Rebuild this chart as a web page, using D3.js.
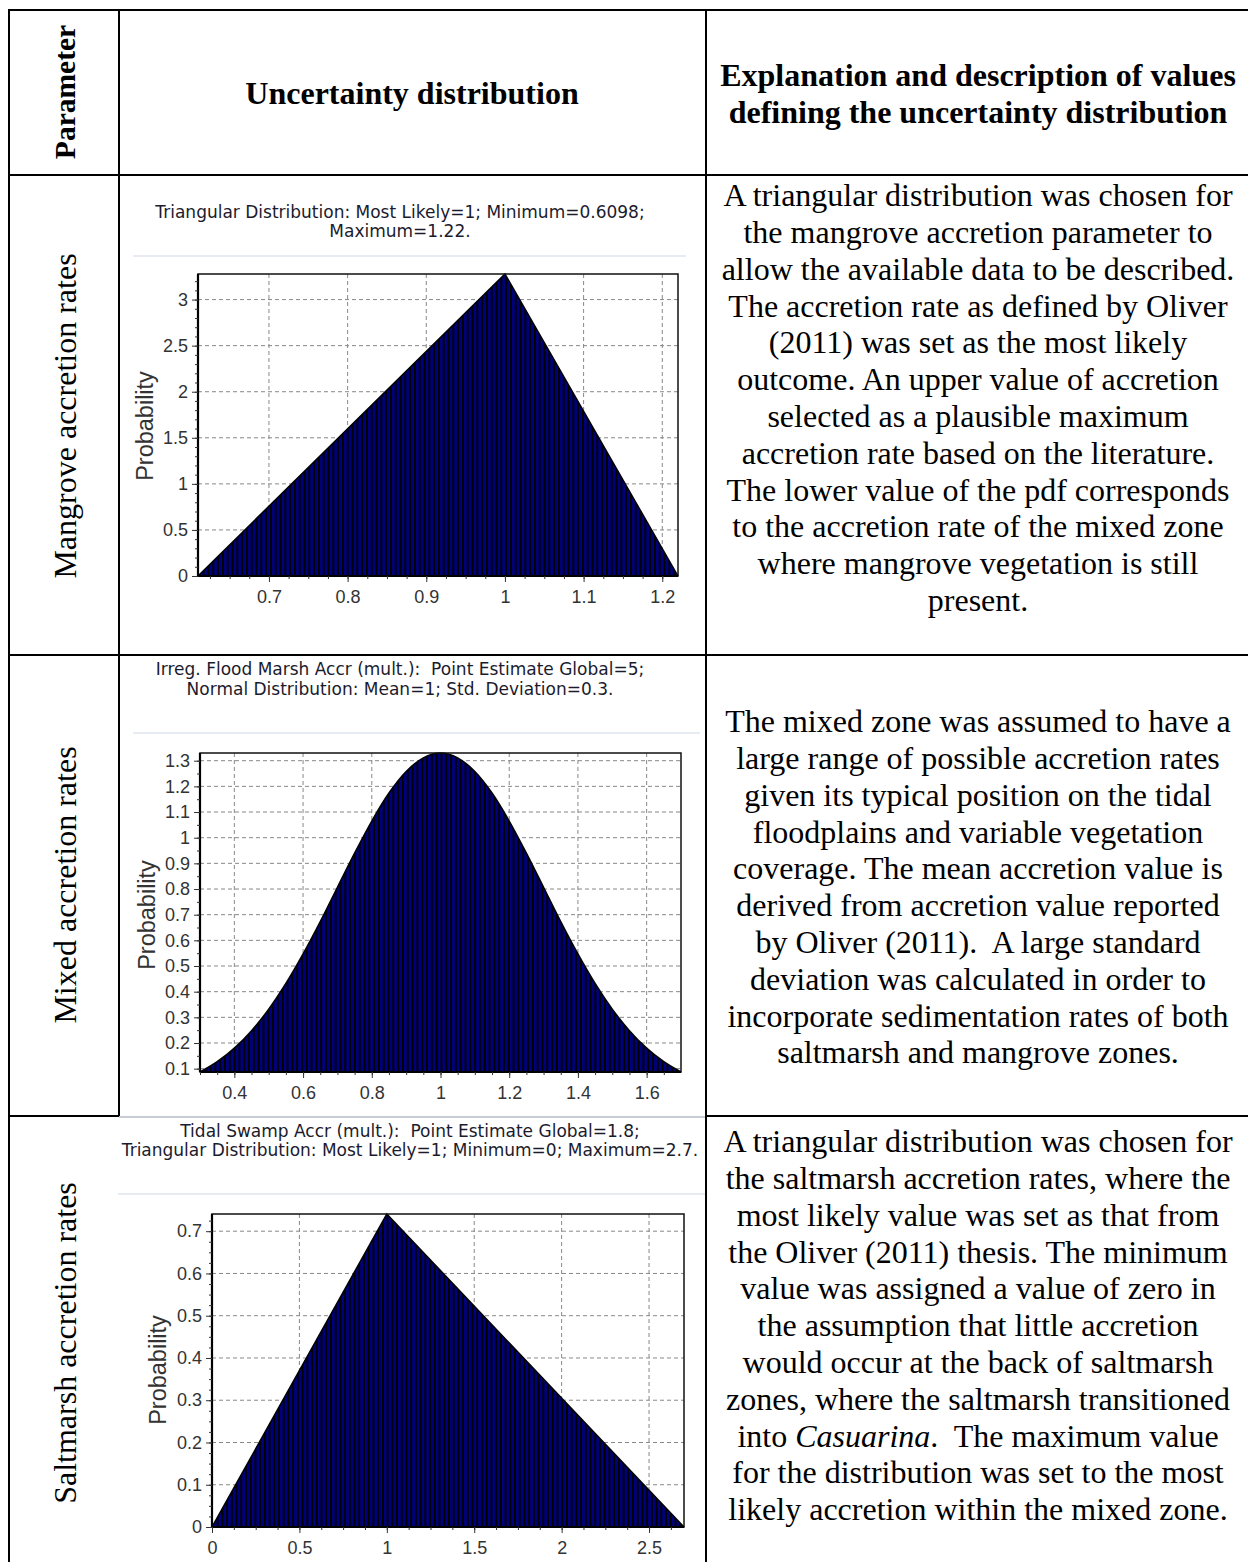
<!DOCTYPE html>
<html><head><meta charset="utf-8">
<script src="https://cdn.jsdelivr.net/npm/d3@7"></script>
<style>
body{margin:0;background:#fff}
svg{display:block}
text{white-space:pre}
</style>
</head><body>
<svg id="c" width="1248" height="1562"></svg>
<script>
// ---------------- DATA ----------------
const headerLabels = ["Parameter", "Uncertainty distribution"];
const headerExplanation = ["Explanation and description of values", "defining the uncertainty distribution"];
const parameterNames = ["Mangrove accretion rates", "Mixed accretion rates", "Saltmarsh accretion rates"];

const mangroveTitle = ["Triangular Distribution: Most Likely=1; Minimum=0.6098;", "Maximum=1.22."];
const mixedTitle = ["Irreg. Flood Marsh Accr (mult.):  Point Estimate Global=5;", "Normal Distribution: Mean=1; Std. Deviation=0.3."];
const saltmarshTitle = ["Tidal Swamp Accr (mult.):  Point Estimate Global=1.8;", "Triangular Distribution: Most Likely=1; Minimum=0; Maximum=2.7."];

// probability curves
const mangroveX = [0.6098, 1.0, 1.22];
const mangroveP = [0, 3.2776, 0];
const mixedX = [0.3, 0.35, 0.4, 0.45, 0.5, 0.55, 0.6, 0.65, 0.7, 0.75, 0.8, 0.85, 0.9, 0.95, 1.0,
                1.05, 1.1, 1.15, 1.2, 1.25, 1.3, 1.35, 1.4, 1.45, 1.5, 1.55, 1.6, 1.65, 1.7];
const mixedP = [0.087, 0.127, 0.180, 0.248, 0.332, 0.432, 0.547, 0.673, 0.807, 0.940, 1.065, 1.174, 1.258, 1.311, 1.330,
                1.311, 1.258, 1.174, 1.065, 0.940, 0.807, 0.673, 0.547, 0.432, 0.332, 0.248, 0.180, 0.127, 0.087];
const saltmarshX = [0, 1.0, 2.7];
const saltmarshP = [0, 0.7407, 0];

// tick labels
const mangroveXTicks = [0.7, 0.8, 0.9, 1, 1.1, 1.2];
const mangroveYTicks = [0, 0.5, 1, 1.5, 2, 2.5, 3];
const mixedXTicks = [0.4, 0.6, 0.8, 1, 1.2, 1.4, 1.6];
const mixedYTicks = [0.1, 0.2, 0.3, 0.4, 0.5, 0.6, 0.7, 0.8, 0.9, 1, 1.1, 1.2, 1.3];
const saltmarshXTicks = [0, 0.5, 1, 1.5, 2, 2.5];
const saltmarshYTicks = [0, 0.1, 0.2, 0.3, 0.4, 0.5, 0.6, 0.7];

const mangroveText = [
  "A triangular distribution was chosen for",
  "the mangrove accretion parameter to",
  "allow the available data to be described.",
  "The accretion rate as defined by Oliver",
  "(2011) was set as the most likely",
  "outcome. An upper value of accretion",
  "selected as a plausible maximum",
  "accretion rate based on the literature.",
  "The lower value of the pdf corresponds",
  "to the accretion rate of the mixed zone",
  "where mangrove vegetation is still",
  "present."
];
const mixedText = [
  "The mixed zone was assumed to have a",
  "large range of possible accretion rates",
  "given its typical position on the tidal",
  "floodplains and variable vegetation",
  "coverage. The mean accretion value is",
  "derived from accretion value reported",
  "by Oliver (2011).  A large standard",
  "deviation was calculated in order to",
  "incorporate sedimentation rates of both",
  "saltmarsh and mangrove zones."
];
const saltmarshText = [
  "A triangular distribution was chosen for",
  "the saltmarsh accretion rates, where the",
  "most likely value was set as that from",
  "the Oliver (2011) thesis. The minimum",
  "value was assigned a value of zero in",
  "the assumption that little accretion",
  "would occur at the back of saltmarsh",
  "zones, where the saltmarsh transitioned",
  "into *Casuarina*.  The maximum value",
  "for the distribution was set to the most",
  "likely accretion within the mixed zone."
];

// ---------------- LAYOUT ----------------
const svg = d3.select("#c");
const serif = "'Liberation Serif','Times New Roman',serif";
const sans = "'Liberation Sans',Arial,sans-serif";
const uiFont = "'DejaVu Sans',Tahoma,Verdana,sans-serif";
const tableFontSize = 32;
const lineH = 36.8;

const charts = [
  {title: mangroveTitle, xs: mangroveX, ps: mangroveP, xt: mangroveXTicks, yt: mangroveYTicks,
   xMinor: 0.025, yMinor: 0.1, box: {l: 198, r: 678, t: 274, b: 576},
   titleX: 400, titleY: [212, 231], sep: {y: 256, x1: 133, x2: 686}, yLab: {x: 145, y: 426},
   text: mangroveText, textY: 195, label: parameterNames[0], labelY: 416},
  {title: mixedTitle, xs: mixedX, ps: mixedP, xt: mixedXTicks, yt: mixedYTicks,
   xMinor: 0.05, yMinor: 0.05, box: {l: 200, r: 681, t: 753, b: 1072},
   titleX: 400, titleY: [669, 689], sep: {y: 733, x1: 133, x2: 700}, yLab: {x: 147, y: 915},
   text: mixedText, textY: 721, label: parameterNames[1], labelY: 885},
  {title: saltmarshTitle, xs: saltmarshX, ps: saltmarshP, xt: saltmarshXTicks, yt: saltmarshYTicks,
   xMinor: 0.125, yMinor: 0.025, box: {l: 212, r: 684, t: 1214, b: 1527},
   titleX: 410, titleY: [1131, 1150], sep: {y: 1194, x1: 118, x2: 705}, yLab: {x: 158, y: 1370},
   text: saltmarshText, textY: 1141, label: parameterNames[2], labelY: 1343}
];

const defs = svg.append("defs");
const fmt = d3.format("~g");

charts.forEach((c, i) => {
  const g = svg.append("g");
  const xDom = d3.extent(c.xs), yDom = d3.extent(c.ps);
  const x = d3.scaleLinear().domain(xDom).range([c.box.l, c.box.r]);
  const y = d3.scaleLinear().domain(yDom).range([c.box.b, c.box.t]);

  // title
  c.title.forEach((t, k) => {
    g.append("text").attr("x", c.titleX).attr("y", c.titleY[k]).attr("dy", "0.35em")
      .attr("text-anchor", "middle").attr("font-family", uiFont).attr("font-size", 17)
      .attr("fill", "#1b1b2e").text(t);
  });
  g.append("line").attr("x1", c.sep.x1).attr("x2", c.sep.x2).attr("y1", c.sep.y).attr("y2", c.sep.y)
    .attr("stroke", "#dfe5ee").attr("stroke-width", 1.5);

  // grid
  const grid = g.append("g").attr("stroke", "#888").attr("stroke-dasharray", "4,3").attr("stroke-width", 1);
  c.xt.forEach(v => grid.append("line").attr("x1", x(v)).attr("x2", x(v)).attr("y1", c.box.t).attr("y2", c.box.b));
  c.yt.forEach(v => grid.append("line").attr("y1", y(v)).attr("y2", y(v)).attr("x1", c.box.l).attr("x2", c.box.r));

  // striped histogram fill
  const bw = (c.box.r - c.box.l) / 100;
  const pat = defs.append("pattern").attr("id", "stripes" + i).attr("patternUnits", "userSpaceOnUse")
    .attr("x", c.box.l).attr("y", 0).attr("width", bw).attr("height", 20);
  pat.append("rect").attr("width", bw).attr("height", 20).attr("fill", "#00007a");
  pat.append("rect").attr("x", 0).attr("width", 1.8).attr("height", 20).attr("fill", "#000");

  const data = c.xs.map((v, k) => ({x: v, p: c.ps[k]}));
  const curve = i === 1 ? d3.curveMonotoneX : d3.curveLinear;
  const area = d3.area().x(d => x(d.x)).y0(c.box.b).y1(d => y(d.p)).curve(curve);
  const line = d3.line().x(d => x(d.x)).y(d => y(d.p)).curve(curve);
  g.append("path").datum(data).attr("d", area).attr("fill", `url(#stripes${i})`);
  g.append("path").datum(data).attr("d", line).attr("fill", "none").attr("stroke", "#000").attr("stroke-width", 1.5);

  // frame
  g.append("rect").attr("x", c.box.l).attr("y", c.box.t).attr("width", c.box.r - c.box.l)
    .attr("height", c.box.b - c.box.t).attr("fill", "none").attr("stroke", "#111").attr("stroke-width", 1.5);
  g.append("line").attr("x1", c.box.l).attr("x2", c.box.l).attr("y1", c.box.t).attr("y2", c.box.b)
    .attr("stroke", "#000").attr("stroke-width", 2.2);
  g.append("line").attr("x1", c.box.l).attr("x2", c.box.r).attr("y1", c.box.b).attr("y2", c.box.b)
    .attr("stroke", "#000").attr("stroke-width", 2.2);

  // axes
  const minorX = d3.range(Math.ceil(xDom[0] / c.xMinor) * c.xMinor, xDom[1], c.xMinor);
  const minorY = d3.range(Math.ceil(yDom[0] / c.yMinor) * c.yMinor, yDom[1], c.yMinor);
  const styleAxis = sel => {
    sel.select(".domain").remove();
    sel.selectAll(".tick line").attr("stroke", "#333");
    sel.selectAll(".tick text").attr("font-family", sans).attr("font-size", 18).attr("fill", "#333");
  };
  g.append("g").attr("transform", `translate(0,${c.box.b})`)
    .call(d3.axisBottom(x).tickValues(minorX).tickSize(3).tickFormat("")).call(styleAxis);
  g.append("g").attr("transform", `translate(${c.box.l},0)`)
    .call(d3.axisLeft(y).tickValues(minorY).tickSize(3).tickFormat("")).call(styleAxis);
  g.append("g").attr("transform", `translate(0,${c.box.b})`)
    .call(d3.axisBottom(x).tickValues(c.xt).tickSize(6).tickPadding(8).tickFormat(fmt)).call(styleAxis);
  g.append("g").attr("transform", `translate(${c.box.l},0)`)
    .call(d3.axisLeft(y).tickValues(c.yt).tickSize(6).tickPadding(4).tickFormat(fmt)).call(styleAxis);

  g.append("text").attr("transform", `translate(${c.yLab.x},${c.yLab.y}) rotate(-90)`)
    .attr("text-anchor", "middle").attr("dy", "0.35em").attr("font-family", sans).attr("font-size", 23.5)
    .attr("fill", "#333").text("Probability");

  // description text
  c.text.forEach((t, k) => {
    const tx = svg.append("text").attr("x", 978).attr("y", c.textY + k * lineH).attr("dy", "0.35em")
      .attr("text-anchor", "middle").attr("font-family", serif).attr("font-size", tableFontSize).attr("fill", "#000");
    t.split("*").forEach((part, m) => {
      tx.append("tspan").attr("font-style", m % 2 ? "italic" : "normal").text(part);
    });
  });

  // parameter label
  svg.append("text").attr("transform", `translate(65,${c.labelY}) rotate(-90)`)
    .attr("text-anchor", "middle").attr("dy", "0.35em").attr("font-family", serif)
    .attr("font-size", tableFontSize).attr("fill", "#000").text(c.label);
});

// header
svg.append("text").attr("transform", "translate(65,92) rotate(-90)").attr("text-anchor", "middle")
  .attr("dy", "0.35em").attr("font-family", serif).attr("font-weight", "bold").attr("font-size", 29.5)
  .text(headerLabels[0]);
svg.append("text").attr("x", 412).attr("y", 93).attr("dy", "0.35em").attr("text-anchor", "middle")
  .attr("font-family", serif).attr("font-weight", "bold").attr("font-size", tableFontSize).text(headerLabels[1]);
headerExplanation.forEach((t, k) => {
  svg.append("text").attr("x", 978).attr("y", 75 + k * 37).attr("dy", "0.35em").attr("text-anchor", "middle")
    .attr("font-family", serif).attr("font-weight", "bold").attr("font-size", tableFontSize).text(t);
});

// table rules
const rules = svg.append("g").attr("stroke", "#000").attr("stroke-width", 2);
[[9, 10, 1248, 10], [9, 175, 1248, 175], [9, 655, 1248, 655], [9, 1116, 119, 1116], [706, 1116, 1248, 1116],
 [9, 9, 9, 1562], [119, 9, 119, 1116], [706, 9, 706, 1562]].forEach(r =>
  rules.append("line").attr("x1", r[0]).attr("y1", r[1]).attr("x2", r[2]).attr("y2", r[3]));
svg.append("line").attr("x1", 119).attr("x2", 705).attr("y1", 1117).attr("y2", 1117)
  .attr("stroke", "#c8ccd4").attr("stroke-width", 2);
</script>
</body></html>
